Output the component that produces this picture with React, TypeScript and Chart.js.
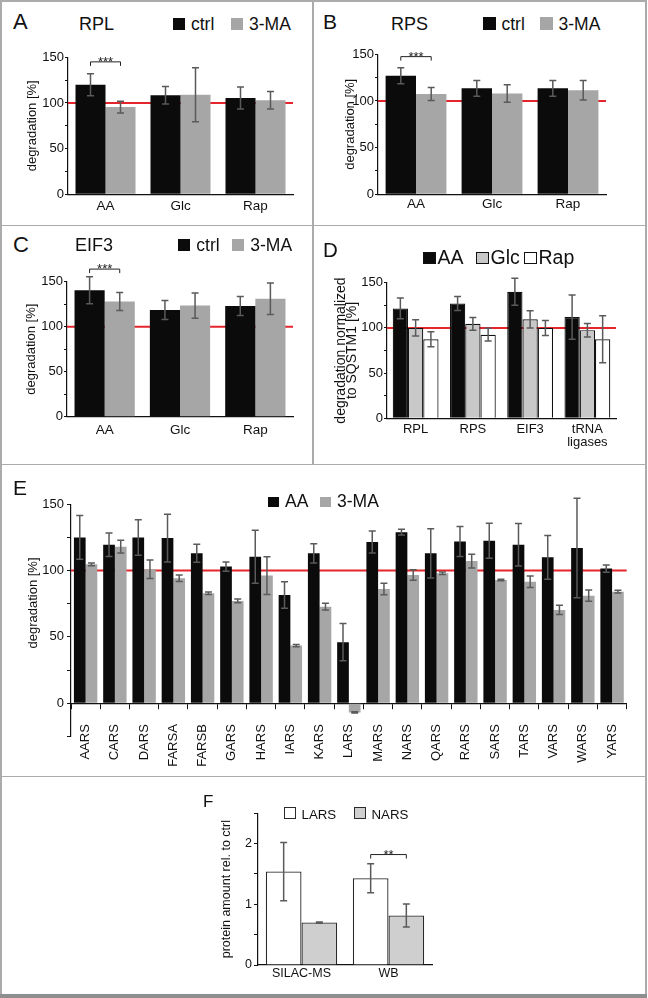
import { useEffect, useRef } from 'react';
import { Chart, registerables } from 'chart.js';

Chart.register(...registerables);
Chart.defaults.font.family = '"Liberation Sans", Arial, sans-serif';
Chart.defaults.color = '#111';

// ---- data ----
const treatments = ['AA', 'Glc', 'Rap'];

const rplCtrl = [120, 108.5, 105.5];
const rplCtrlErr = [12, 9.5, 12];
const rpl3MA = [95.5, 109, 103];
const rpl3MAErr = [6.5, 29.5, 9.5];

const rpsCtrl = [127, 113.5, 113.5];
const rpsCtrlErr = [8.5, 8.5, 8.5];
const rps3MA = [107.5, 108, 111.5];
const rps3MAErr = [7, 9.5, 10.5];

const eifCtrl = [140.5, 118.5, 123];
const eifCtrlErr = [15, 10.5, 10.5];
const eif3MA = [128, 123.5, 131];
const eif3MAErr = [10, 14, 17.5];

const complexes = ['RPL', 'RPS', 'EIF3', ['tRNA', 'ligases']];
const normAA = [121.5, 127, 140, 112];
const normAAErr = [11.5, 7.7, 15, 24.5];
const normGlc = [100, 104.5, 109.5, 97.5];
const normGlcErr = [9, 7, 9.5, 7.5];
const normRap = [87.5, 92.5, 100, 87.5];
const normRapErr = [8.3, 7, 8.3, 26];

const ligases = ['AARS', 'CARS', 'DARS', 'FARSA', 'FARSB', 'GARS', 'HARS', 'IARS', 'KARS', 'LARS',
  'MARS', 'NARS', 'QARS', 'RARS', 'SARS', 'TARS', 'VARS', 'WARS', 'YARS'];
const ligAA = [125, 119.5, 125, 124.5, 113, 103, 110.5, 81.5, 113, 46, 121.5, 129, 113, 122, 122.5, 119.5, 110, 117, 101.5];
const ligAAErr = [16.5, 8.8, 13.4, 18, 6.8, 3.5, 20, 10, 7.3, 14, 8.3, 2.2, 18.5, 11.3, 13.2, 16, 16.5, 37.5, 2.8];
const lig3MA = [104.7, 118, 101, 94.2, 82.9, 77.1, 96.2, 43.4, 72.8, -7, 86.1, 96.7, 98, 107.2, 92.9, 91.6, 70.3, 81.1, 84.1];
const lig3MAErr = [1, 4.8, 7, 2.5, 1, 1.4, 14.2, 0.8, 2.5, 0.5, 4.3, 4, 1, 5.2, 0.5, 4.3, 3.5, 4.2, 1];

const methods = ['SILAC-MS', 'WB'];
const amountLARS = [1.54, 1.43];
const amountLARSErr = [0.48, 0.24];
const amountNARS = [0.7, 0.815];
const amountNARSErr = [0.01, 0.19];

const degLabelled = [0, 50, 100, 150];
const amountLabelled = [0, 1, 2];

const BLACK = '#0b0b0b';
const GRAY = '#a6a6a6';
const LIGHT = '#c8c8c8';
const RED = '#e4252c';
const FONT = '"Liberation Sans", Arial, sans-serif';

// red reference line, error bars and significance brackets
const annotPlugin = {
  id: 'annot',
  beforeDatasetsDraw(chart: any, _a: any, opts: any) {
    if (opts.refLine == null) return;
    const { ctx, chartArea } = chart;
    const y = chart.scales.y.getPixelForValue(opts.refLine);
    ctx.save();
    ctx.strokeStyle = RED;
    ctx.lineWidth = 2;
    ctx.beginPath();
    ctx.moveTo(chartArea.left, y);
    ctx.lineTo(chartArea.right, y);
    ctx.stroke();
    ctx.restore();
  },
  afterDatasetsDraw(chart: any, _a: any, opts: any) {
    const { ctx } = chart;
    const ys = chart.scales.y;
    const cap = opts.cap ?? 3.5;
    ctx.save();
    ctx.strokeStyle = '#5a5a5a';
    ctx.lineWidth = 1.5;
    chart.data.datasets.forEach((ds: any, i: number) => {
      if (!ds.errors) return;
      chart.getDatasetMeta(i).data.forEach((bar: any, j: number) => {
        const v = ds.data[j];
        const e = ds.errors[j];
        const y1 = ys.getPixelForValue(v + e);
        const y2 = ys.getPixelForValue(v - e);
        ctx.beginPath();
        ctx.moveTo(bar.x, y1);
        ctx.lineTo(bar.x, y2);
        ctx.moveTo(bar.x - cap, y1);
        ctx.lineTo(bar.x + cap, y1);
        ctx.moveTo(bar.x - cap, y2);
        ctx.lineTo(bar.x + cap, y2);
        ctx.stroke();
      });
    });
    const b = opts.bracket;
    if (b) {
      const x1 = chart.getDatasetMeta(0).data[b.index].x;
      const x2 = chart.getDatasetMeta(1).data[b.index].x;
      const y = ys.getPixelForValue(b.value);
      ctx.strokeStyle = '#222';
      ctx.lineWidth = 1;
      ctx.beginPath();
      ctx.moveTo(x1, y + 4);
      ctx.lineTo(x1, y);
      ctx.lineTo(x2, y);
      ctx.lineTo(x2, y + 4);
      ctx.stroke();
      ctx.fillStyle = '#222';
      ctx.font = `13px ${FONT}`;
      ctx.textAlign = 'center';
      ctx.textBaseline = 'alphabetic';
      ctx.fillText(b.text, (x1 + x2) / 2, y + 4);
    }
    ctx.restore();
  },
};

type Box = { x: number; y: number; w: number; h: number };
type Area = { l: number; t: number; r: number; b: number };

interface Spec {
  box: Box;
  area: Area;
  labels: any[];
  datasets: any[];
  yMin: number;
  yMax: number;
  yStep: number;
  yLabelled: number[];
  yTitle?: string | string[];
  yTitleSize?: number;
  yTitleLine?: number;
  yTitleX?: number;
  tickSize: number;
  yTickLen: number;
  yTickPad: number;
  xSize: number;
  xLine?: number;
  xPad: number;
  catPct: number;
  refLine?: number;
  bracket?: { index: number; value: number; text: string };
  axisAtZero?: boolean;
}

function makeConfig(s: Spec): any {
  const padTop = s.area.t - s.box.y;
  const padRight = s.box.x + s.box.w - s.area.r;
  const yWidth = s.area.l - s.box.x;
  const xHeight = s.box.y + s.box.h - s.area.b;
  const tSize = s.yTitleSize ?? 13;
  const tLine = s.yTitleLine ?? 1.2;
  return {
    type: 'bar',
    data: {
      labels: s.labels,
      datasets: s.datasets.map((d) => ({ ...d, categoryPercentage: s.catPct, barPercentage: 1 })),
    },
    options: {
      animation: false,
      responsive: false,
      layout: { padding: { left: 0, top: padTop, right: padRight, bottom: s.axisAtZero ? xHeight : 0 } },
      plugins: {
        legend: { display: false },
        tooltip: { enabled: false },
        annot: { refLine: s.refLine, bracket: s.bracket },
      },
      scales: {
        x: {
          position: s.axisAtZero ? { y: 0 } : 'bottom',
          grid: s.axisAtZero
            ? { display: true, drawOnChartArea: false, drawTicks: true, tickLength: 5, color: '#111', offset: true }
            : { display: false, drawTicks: false, tickLength: 0 },
          border: { display: true, color: '#111', width: 1.2 },
          ticks: {
            font: { size: s.xSize, lineHeight: s.xLine ?? 1.2 },
            padding: s.xPad,
            autoSkip: false,
            minRotation: s.axisAtZero ? 90 : 0,
            maxRotation: s.axisAtZero ? 90 : 0,
          },
          afterFit: (scale: any) => {
            if (!s.axisAtZero) scale.height = xHeight;
          },
        },
        y: {
          min: s.yMin,
          max: s.yMax,
          grid: { drawOnChartArea: false, drawTicks: true, tickLength: s.yTickLen, color: '#111' },
          border: { display: true, color: '#111', width: 1.2 },
          ticks: {
            stepSize: s.yStep,
            font: { size: s.tickSize },
            padding: s.yTickPad,
            callback: (v: any) => (s.yLabelled.includes(v) ? String(v) : ''),
          },
          title: s.yTitle
            ? {
                display: true,
                text: s.yTitle,
                font: { size: tSize, lineHeight: tLine },
                padding: { top: (s.yTitleX ?? 0) - s.box.x - (tSize * tLine) / 2, bottom: 0 },
              }
            : { display: false },
          afterFit: (scale: any) => {
            scale.width = yWidth;
          },
        },
      },
    },
    plugins: [annotPlugin],
  };
}

const BarPanel = ({ spec }: { spec: Spec }) => {
  const canvasRef = useRef<HTMLCanvasElement>(null);
  useEffect(() => {
    if (!canvasRef.current) return;
    const chart = new Chart(canvasRef.current, makeConfig(spec));
    return () => chart.destroy();
  }, [spec]);
  const { x, y, w, h } = spec.box;
  return (
    <canvas
      ref={canvasRef}
      width={w}
      height={h}
      style={{ position: 'absolute', left: x, top: y, width: w, height: h }}
    />
  );
};

const pairSets = (ctrl: number[], ctrlErr: number[], ma: number[], maErr: number[]) => [
  { label: 'ctrl', data: ctrl, errors: ctrlErr, backgroundColor: BLACK },
  { label: '3-MA', data: ma, errors: maErr, backgroundColor: GRAY },
];

const degAxis = { yMin: 0, yMax: 150, yStep: 25, yLabelled: degLabelled, tickSize: 13, yTickLen: 3, yTickPad: 1 };

const specA: Spec = {
  box: { x: 2, y: 40, w: 308, h: 182 },
  area: { l: 68, t: 57.3, r: 293, b: 194.3 },
  labels: treatments,
  datasets: pairSets(rplCtrl, rplCtrlErr, rpl3MA, rpl3MAErr),
  ...degAxis,
  yTitle: 'degradation [%]',
  yTitleX: 32,
  xSize: 13.5,
  xPad: 3.5,
  catPct: 0.8,
  refLine: 100,
  bracket: { index: 0, value: 145, text: '***' },
};

const specB: Spec = {
  box: { x: 314, y: 40, w: 330, h: 182 },
  area: { l: 378, t: 54.3, r: 606, b: 194.3 },
  labels: treatments,
  datasets: pairSets(rpsCtrl, rpsCtrlErr, rps3MA, rps3MAErr),
  ...degAxis,
  yTitle: 'degradation [%]',
  yTitleX: 350,
  xSize: 13.5,
  xPad: 1.5,
  catPct: 0.8,
  refLine: 100,
  bracket: { index: 0, value: 147.5, text: '***' },
};

const specC: Spec = {
  box: { x: 2, y: 262, w: 308, h: 200 },
  area: { l: 67, t: 281.7, r: 293, b: 416.7 },
  labels: treatments,
  datasets: pairSets(eifCtrl, eifCtrlErr, eif3MA, eif3MAErr),
  ...degAxis,
  yTitle: 'degradation [%]',
  yTitleX: 31.7,
  xSize: 13.5,
  xPad: 5,
  catPct: 0.8,
  refLine: 100,
  bracket: { index: 0, value: 164, text: '***' },
};

const specD: Spec = {
  box: { x: 314, y: 262, w: 330, h: 200 },
  area: { l: 387, t: 282.7, r: 616, b: 418.3 },
  labels: complexes,
  datasets: [
    { label: 'AA', data: normAA, errors: normAAErr, backgroundColor: BLACK, borderColor: '#111', borderWidth: 1.2 },
    { label: 'Glc', data: normGlc, errors: normGlcErr, backgroundColor: LIGHT, borderColor: '#111', borderWidth: 1.2 },
    { label: 'Rap', data: normRap, errors: normRapErr, backgroundColor: '#ffffff', borderColor: '#111', borderWidth: 1.2 },
  ],
  ...degAxis,
  yTitle: ['degradation normalized', 'to SQSTM1 [%]'],
  yTitleSize: 14,
  yTitleLine: 0.85,
  yTitleX: 340.7,
  xSize: 13,
  xLine: 1.0,
  xPad: 5,
  catPct: 0.8,
  refLine: 100,
};

const specE: Spec = {
  box: { x: 2, y: 470, w: 642, h: 304 },
  area: { l: 71, t: 504.3, r: 632, b: 736.3 },
  labels: ligases,
  datasets: [
    { label: 'AA', data: ligAA, errors: ligAAErr, backgroundColor: BLACK },
    { label: '3-MA', data: lig3MA, errors: lig3MAErr, backgroundColor: GRAY },
  ],
  yMin: -25,
  yMax: 150,
  yStep: 25,
  yLabelled: degLabelled,
  tickSize: 13,
  yTickLen: 4,
  yTickPad: 3,
  xSize: 13,
  xPad: 16,
  catPct: 0.8,
  refLine: 100,
  axisAtZero: true,
};

const specF: Spec = {
  box: { x: 190, y: 785, w: 262, h: 205 },
  area: { l: 258, t: 813.3, r: 432, b: 965 },
  labels: methods,
  datasets: [
    { label: 'LARS', data: amountLARS, errors: amountLARSErr, backgroundColor: '#ffffff', borderColor: '#2a2a2a', borderWidth: 1.3 },
    { label: 'NARS', data: amountNARS, errors: amountNARSErr, backgroundColor: '#cfcfcf', borderColor: '#2a2a2a', borderWidth: 1.3 },
  ],
  yMin: 0,
  yMax: 2.5,
  yStep: 0.5,
  yLabelled: amountLabelled,
  tickSize: 12.5,
  yTickLen: 4,
  yTickPad: 2,
  yTitle: 'protein amount rel. to ctrl',
  yTitleSize: 12.5,
  yTitleX: 226.7,
  xSize: 12.5,
  xPad: 1,
  catPct: 0.82,
  bracket: { index: 1, value: 1.82, text: '**' },
};

// ---- HTML text helpers ----
const Txt = ({ x, base, size, children }: { x: number; base: number; size: number; children: any }) => (
  <div
    style={{
      position: 'absolute',
      left: x,
      top: base - 0.8465 * size,
      fontSize: size,
      lineHeight: `${size}px`,
      whiteSpace: 'nowrap',
      color: '#111',
    }}
  >
    {children}
  </div>
);

type LegItem = { x: number; label: string; fill: string; border?: string };
const Legend = ({ base, size, box, gap, items }: { base: number; size: number; box: number; gap: number; items: LegItem[] }) => (
  <>
    {items.map((it) => (
      <div
        key={it.label}
        style={{
          position: 'absolute',
          left: it.x,
          top: base - 0.8465 * size,
          fontSize: size,
          lineHeight: `${size}px`,
          whiteSpace: 'nowrap',
          color: '#111',
        }}
      >
        <span
          style={{
            display: 'inline-block',
            width: box,
            height: box,
            background: it.fill,
            border: it.border ? `1.5px solid ${it.border}` : 'none',
            boxSizing: 'border-box',
            marginRight: gap,
            verticalAlign: 'baseline',
          }}
        />
        {it.label}
      </div>
    ))}
  </>
);

const Line = ({ x, y, w, h, c = '#ababab' }: { x: number; y: number; w: number; h: number; c?: string }) => (
  <div style={{ position: 'absolute', left: x, top: y, width: w, height: h, background: c }} />
);

export default function App() {
  return (
    <div
      style={{
        position: 'fixed',
        left: 0,
        top: 0,
        width: 648,
        height: 998,
        background: '#fff',
        overflow: 'hidden',
        fontFamily: FONT,
      }}
    >
      <BarPanel spec={specA} />
      <BarPanel spec={specB} />
      <BarPanel spec={specC} />
      <BarPanel spec={specD} />
      <BarPanel spec={specE} />
      <BarPanel spec={specF} />

      {/* frame */}
      <Line x={0} y={0} w={647} h={2} />
      <Line x={0} y={0} w={2} h={997} />
      <Line x={645} y={0} w={2} h={997} />
      <Line x={0} y={994} w={647} h={4} c="#8e8e8e" />
      <Line x={312} y={0} w={1.5} h={464} />
      <Line x={0} y={224.5} w={647} h={1.5} />
      <Line x={0} y={463.5} w={647} h={1.5} />
      <Line x={0} y={775.5} w={647} h={1.5} />

      {/* A */}
      <Txt x={13} base={30} size={22}>A</Txt>
      <Txt x={79} base={30} size={18}>RPL</Txt>
      <Legend
        base={31}
        size={17.5}
        box={12}
        gap={6}
        items={[
          { x: 173, label: 'ctrl', fill: BLACK },
          { x: 231, label: '3-MA', fill: GRAY },
        ]}
      />

      {/* B */}
      <Txt x={323} base={28.5} size={21}>B</Txt>
      <Txt x={391} base={30} size={18}>RPS</Txt>
      <Legend
        base={30.7}
        size={17.5}
        box={12.5}
        gap={6}
        items={[
          { x: 483, label: 'ctrl', fill: BLACK },
          { x: 540, label: '3-MA', fill: GRAY },
        ]}
      />

      {/* C */}
      <Txt x={13} base={252.5} size={22}>C</Txt>
      <Txt x={75} base={251.7} size={18}>EIF3</Txt>
      <Legend
        base={251.7}
        size={17.5}
        box={12.3}
        gap={6}
        items={[
          { x: 178, label: 'ctrl', fill: BLACK },
          { x: 232, label: '3-MA', fill: GRAY },
        ]}
      />

      {/* D */}
      <Txt x={323} base={257.3} size={20.5}>D</Txt>
      <Legend
        base={265}
        size={19.5}
        box={12.5}
        gap={2}
        items={[
          { x: 423, label: 'AA', fill: BLACK, border: '#111' },
          { x: 476, label: 'Glc', fill: LIGHT, border: '#111' },
          { x: 524, label: 'Rap', fill: '#ffffff', border: '#111' },
        ]}
      />

      {/* E */}
      <Txt x={13} base={495} size={21}>E</Txt>
      <Legend
        base={508.3}
        size={17.5}
        box={10.5}
        gap={6.5}
        items={[
          { x: 268, label: 'AA', fill: BLACK },
          { x: 320, label: '3-MA', fill: GRAY },
        ]}
      />
      <div style={{ position: 'absolute', left: 32, top: 603, width: 0, height: 0 }}>
        <div
          style={{
            position: 'absolute',
            left: 0,
            top: 0,
            transform: 'translate(-50%, -50%) rotate(-90deg)',
            fontSize: 13,
            lineHeight: '15px',
            whiteSpace: 'nowrap',
            color: '#111',
          }}
        >
          degradation [%]
        </div>
      </div>

      {/* F */}
      <Txt x={203} base={807} size={17}>F</Txt>
      <Legend
        base={818.3}
        size={13.3}
        box={11.5}
        gap={6}
        items={[
          { x: 284, label: 'LARS', fill: '#ffffff', border: '#2a2a2a' },
          { x: 354, label: 'NARS', fill: '#cfcfcf', border: '#2a2a2a' },
        ]}
      />
    </div>
  );
}
